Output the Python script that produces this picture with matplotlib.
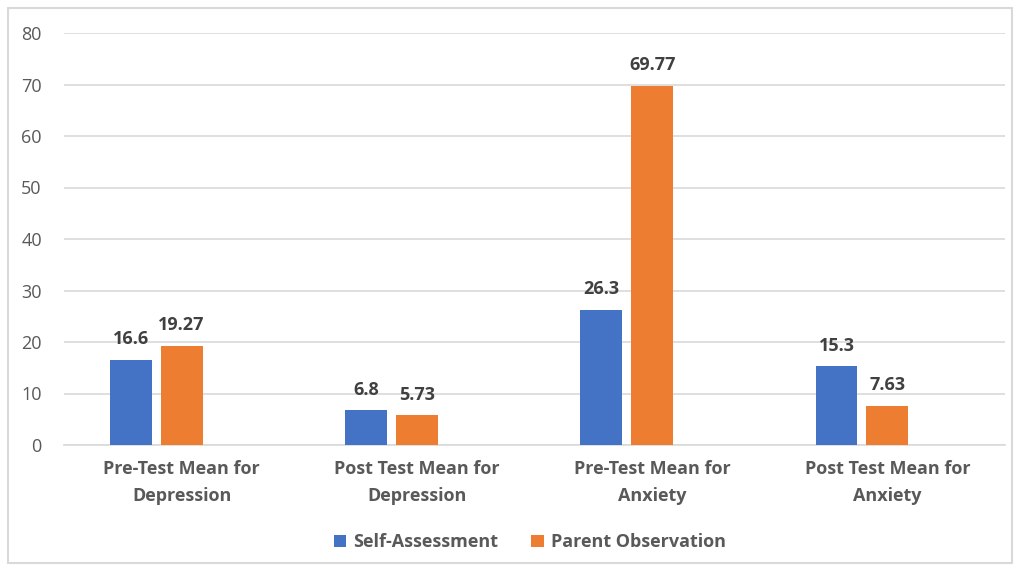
import matplotlib.pyplot as plt
import numpy as np
from matplotlib.patches import Rectangle

plt.rcParams['font.family'] = ['Open Sans', 'DejaVu Sans']

# Chart data
categories = ["Pre-Test Mean for\nDepression", "Post Test Mean for\nDepression",
              "Pre-Test Mean for\nAnxiety", "Post Test Mean for\nAnxiety"]
self_assessment = [16.6, 6.8, 26.3, 15.3]
parent_observation = [19.27, 5.73, 69.77, 7.63]
self_labels = ["16.6", "6.8", "26.3", "15.3"]
parent_labels = ["19.27", "5.73", "69.77", "7.63"]

blue = '#4472C4'
orange = '#ED7D31'
text_gray = '#595959'

fig = plt.figure(figsize=(10.18, 5.69), dpi=100)
ax = fig.add_axes([64 / 1018, 1 - 445 / 569, 941 / 1018, 412 / 569])

x = np.arange(len(categories))
slot = 0.216
width = 0.178

b1 = ax.bar(x - slot, self_assessment, width, color=blue, label='Self-Assessment', zorder=3)
b2 = ax.bar(x, parent_observation, width, color=orange, label='Parent Observation', zorder=3)

for bars, labels in ((b1, self_labels), (b2, parent_labels)):
    for bar, lab in zip(bars, labels):
        ax.text(bar.get_x() + bar.get_width() / 2, bar.get_height() + 2.2, lab,
                ha='center', va='bottom', fontsize=13, fontweight='bold', color='#404040')

ax.set_xlim(-0.5, 3.5)
ax.set_ylim(0, 80)
ax.set_yticks(np.arange(0, 81, 10))
ax.yaxis.grid(True, color='#D9D9D9', linewidth=1.2, zorder=0)
ax.set_axisbelow(True)
for s in ['top', 'right', 'left']:
    ax.spines[s].set_visible(False)
ax.spines['bottom'].set_color('#D9D9D9')
ax.spines['bottom'].set_linewidth(1.2)
ax.tick_params(axis='both', length=0, colors=text_gray)
ax.tick_params(axis='y', pad=16, labelsize=13)
ax.tick_params(axis='x', pad=11)
ax.set_xticks(x)
ax.set_xticklabels(categories, fontweight='bold', fontsize=13, color=text_gray, linespacing=1.65)

ax.legend(loc='upper center', bbox_to_anchor=(0.495, -0.175), ncol=2, frameon=False,
          handlelength=0.7, handleheight=0.7, columnspacing=1.8,
          handletextpad=0.4, labelcolor=text_gray, prop={'weight': 'bold', 'size': 13})

fig.patches.append(Rectangle((8 / 1018, 6 / 569), 1004 / 1018, 555 / 569, transform=fig.transFigure,
                             fill=False, edgecolor='#D9D9D9', linewidth=1.5))

fig.savefig('out.png', dpi=100)
